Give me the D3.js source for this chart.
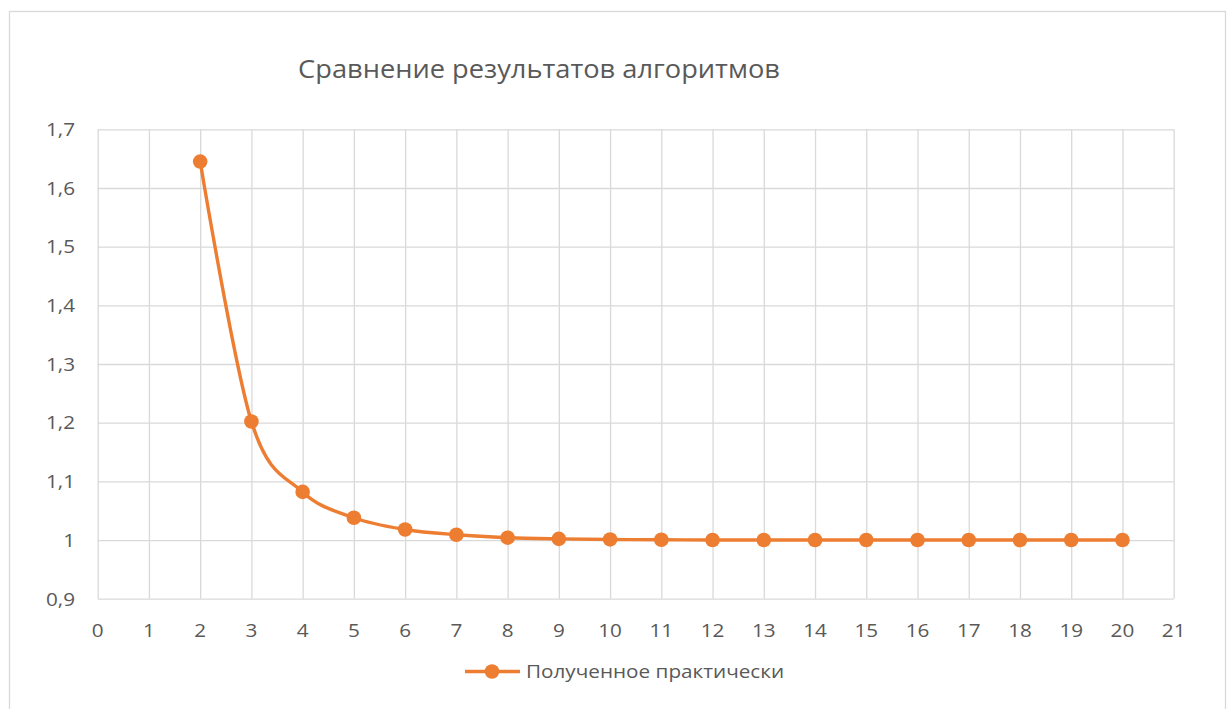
<!DOCTYPE html>
<html>
<head>
<meta charset="utf-8">
<script src="https://cdn.jsdelivr.net/npm/d3@7"></script>
<style>
  html, body { margin: 0; padding: 0; background: #fff; }
  svg { display: block; }
  text { font-family: "Open Sans", "Noto Sans", sans-serif; fill: #595959; }
</style>
</head>
<body>
<svg id="chart" width="1230" height="709"></svg>
<script>
// Ratio per number of iterations
const xValues = [2, 3, 4, 5, 6, 7, 8, 9, 10, 11, 12, 13, 14, 15, 16, 17, 18, 19, 20];
const yValues = [1.645, 1.202, 1.082, 1.038, 1.018, 1.009, 1.004, 1.002, 1.001, 1.0005, 1, 1, 1, 1, 1, 1, 1, 1, 1];
const xTicks = d3.range(0, 22);
const yTicks = [0.9, 1.0, 1.1, 1.2, 1.3, 1.4, 1.5, 1.6, 1.7];
const yTickLabels = ["0,9", "1", "1,1", "1,2", "1,3", "1,4", "1,5", "1,6", "1,7"];
const seriesName = "Полученное практически";
const chartTitle = "Сравнение результатов алгоритмов";

const plot = { left: 97.7, right: 1173.7, top: 129.3, bottom: 598.7 };
const orange = "#ED7D31";
const gridColor = "#d9d9d9";
const stretch = 1.09; // slightly wide lettering

const svg = d3.select("#chart");

// outer chart frame
svg.append("rect")
  .attr("x", 9.5).attr("y", 11.5)
  .attr("width", 1216).attr("height", 720)
  .attr("fill", "#fff")
  .attr("stroke", gridColor).attr("stroke-width", 1.3);

const x = d3.scaleLinear().domain([0, 21]).range([plot.left, plot.right]);
const y = d3.scaleLinear().domain([0.9, 1.7]).range([plot.bottom, plot.top]);

// vertical gridlines
svg.append("g")
  .attr("transform", `translate(0,${plot.bottom})`)
  .call(d3.axisBottom(x).tickValues(xTicks).tickSize(-(plot.bottom - plot.top)).tickFormat(""))
  .call(g => g.select(".domain").remove())
  .call(g => g.selectAll("line").attr("stroke", gridColor).attr("stroke-width", 1.3));

// horizontal gridlines
svg.append("g")
  .attr("transform", `translate(${plot.left},0)`)
  .call(d3.axisLeft(y).tickValues(yTicks).tickSize(-(plot.right - plot.left)).tickFormat(""))
  .call(g => g.select(".domain").remove())
  .call(g => g.selectAll("line").attr("stroke", gridColor).attr("stroke-width", 1.3));

// x tick labels
svg.append("g")
  .selectAll("text")
  .data(xTicks)
  .join("text")
  .attr("transform", d => `translate(${x(d)},637) scale(${stretch},1)`)
  .attr("text-anchor", "middle")
  .attr("font-size", 19)
  .text(d => d);

// y tick labels
svg.append("g")
  .selectAll("text")
  .data(yTicks)
  .join("text")
  .attr("transform", d => `translate(75,${y(d) + 6.8}) scale(${stretch},1)`)
  .attr("text-anchor", "end")
  .attr("font-size", 19)
  .text((d, i) => yTickLabels[i]);

// title
svg.append("text")
  .attr("transform", `translate(539,78) scale(${stretch},1)`)
  .attr("text-anchor", "middle")
  .attr("font-size", 25)
  .text(chartTitle);

// smoothed series line
const pts = xValues.map((d, i) => [d, yValues[i]]);
const line = d3.line()
  .x(d => x(d[0]))
  .y(d => y(d[1]))
  .curve(d3.curveCatmullRom.alpha(0));

svg.append("path")
  .datum(pts)
  .attr("d", line)
  .attr("fill", "none")
  .attr("stroke", orange)
  .attr("stroke-width", 3.4)
  .attr("stroke-linecap", "round");

svg.append("g")
  .selectAll("circle")
  .data(pts)
  .join("circle")
  .attr("cx", d => x(d[0]))
  .attr("cy", d => y(d[1]))
  .attr("r", 7.3)
  .attr("fill", orange);

// legend
const lg = svg.append("g").attr("transform", "translate(0,671.5)");
lg.append("line")
  .attr("x1", 465).attr("x2", 520)
  .attr("y1", 0).attr("y2", 0)
  .attr("stroke", orange).attr("stroke-width", 3.4);
lg.append("circle")
  .attr("cx", 492).attr("cy", 0).attr("r", 7.3)
  .attr("fill", orange);
lg.append("text")
  .attr("transform", `translate(526,6.8) scale(${stretch},1)`)
  .attr("font-size", 19)
  .text(seriesName);
</script>
</body>
</html>
